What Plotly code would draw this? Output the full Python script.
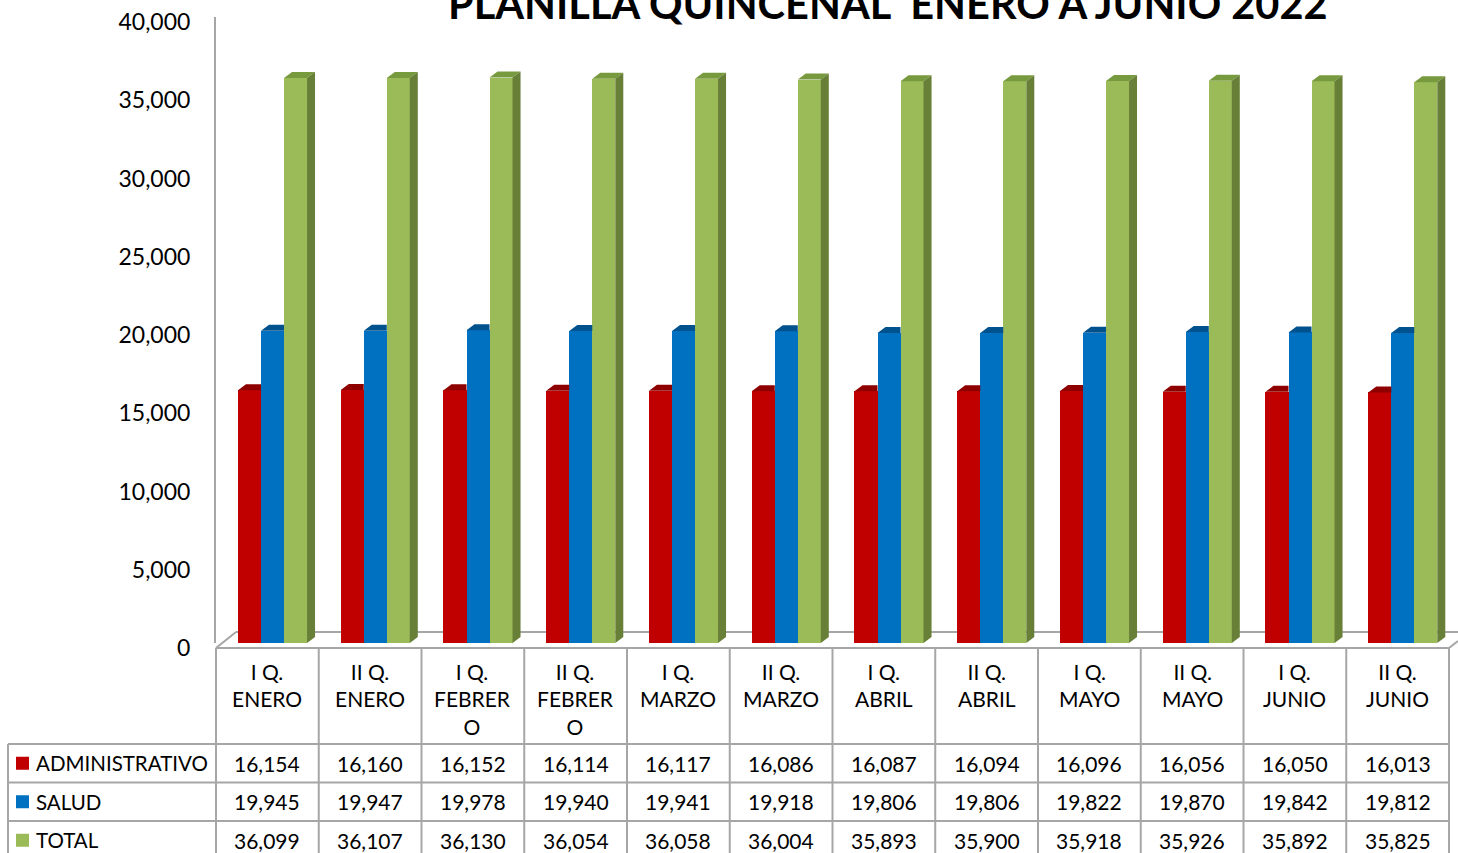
import plotly.graph_objects as go

# ---------------- data ----------------
title = "PLANILLA QUINCENAL  ENERO A JUNIO 2022"
categories = ["I Q.<br>ENERO", "II Q.<br>ENERO", "I Q.<br>FEBRER<br>O", "II Q.<br>FEBRER<br>O",
              "I Q.<br>MARZO", "II Q.<br>MARZO", "I Q.<br>ABRIL", "II Q.<br>ABRIL",
              "I Q.<br>MAYO", "II Q.<br>MAYO", "I Q.<br>JUNIO", "II Q.<br>JUNIO"]
series_names = ["ADMINISTRATIVO", "SALUD", "TOTAL"]
administrativo = [16154, 16160, 16152, 16114, 16117, 16086, 16087, 16094, 16096, 16056, 16050, 16013]
salud = [19945, 19947, 19978, 19940, 19941, 19918, 19806, 19806, 19822, 19870, 19842, 19812]
total = [36099, 36107, 36130, 36054, 36058, 36004, 35893, 35900, 35918, 35926, 35892, 35825]
y_ticks = [0, 5000, 10000, 15000, 20000, 25000, 30000, 35000, 40000]

# ---------------- styling ----------------
W, H = 1458, 853
FONT = "Lato"
colors = ["#C00000", "#0070C0", "#9BBB59"]
top_colors = ["#8E0000", "#00528E", "#789A3E"]
side_color = "#677F37"
grid_color = "#A6A6A6"


def px(x):
    return x / W


def py(y):
    return 1 - y / H


x_left, x_right = 216, 1449
col_w = (x_right - x_left) / len(categories)
plot_top, plot_bot = 17, 643
y_max = 40000
depth_dx = 8 / col_w
depth_dy = 6 / (plot_bot - plot_top) * y_max

values = [administrativo, salud, total]
offsets = [-0.286, -0.062, 0.162]
bw = 0.224
xs = list(range(len(categories)))

fig = go.Figure()
for k, (name, vals, c, off) in enumerate(zip(series_names, values, colors, offsets)):
    fig.add_trace(go.Bar(x=xs, y=vals, name=name, marker=dict(color=c, line=dict(width=0)),
                         offset=off, width=bw, showlegend=False))

# 3D faces (tops, and side of the front-most series) derived from the data
for k, (vals, off) in enumerate(zip(values, offsets)):
    last = k == len(values) - 1
    tx, ty, sx, sy = [], [], [], []
    for i, v in zip(xs, vals):
        x0, x1 = i + off, i + off + bw
        if last:
            tx += [x0, x1, x1 + depth_dx, x0 + depth_dx, x0, None]
            ty += [v, v, v + depth_dy, v + depth_dy, v, None]
            sx += [x1, x1 + depth_dx, x1 + depth_dx, x1, x1, None]
            sy += [v, v + depth_dy, depth_dy, 0, v, None]
        else:
            tx += [x0, x1, x1, x0 + depth_dx, x0, None]
            ty += [v, v, v + depth_dy, v + depth_dy, v, None]
    fig.add_trace(go.Scatter(x=tx, y=ty, mode="lines", fill="toself", fillcolor=top_colors[k],
                             line=dict(width=0, color=top_colors[k]), showlegend=False, hoverinfo="skip"))
    if last:
        fig.add_trace(go.Scatter(x=sx, y=sy, mode="lines", fill="toself", fillcolor=side_color,
                                 line=dict(width=0, color=side_color), showlegend=False, hoverinfo="skip"))

shapes = []
line = dict(color=grid_color, width=2)
# floor (3D base)
shapes.append(dict(type="line", xref="paper", yref="paper", x0=px(216), y0=py(648), x1=px(236), y1=py(632), line=line, layer="below"))
shapes.append(dict(type="line", xref="paper", yref="paper", x0=px(236), y0=py(632), x1=px(1458), y1=py(632), line=line, layer="below"))
shapes.append(dict(type="line", xref="paper", yref="paper", x0=px(1449), y0=py(648), x1=px(1458), y1=py(641), line=line, layer="below"))

# table grid
tbl_top, hdr_bot, row_h, tbl_left = 648, 744, 38.5, 8
shapes.append(dict(type="line", xref="paper", yref="paper", x0=px(x_left), y0=py(tbl_top), x1=px(x_right), y1=py(tbl_top), line=line))
for i in range(len(series_names)):
    yy = hdr_bot + i * row_h
    shapes.append(dict(type="line", xref="paper", yref="paper", x0=px(tbl_left), y0=py(yy), x1=px(x_right), y1=py(yy), line=line))
shapes.append(dict(type="line", xref="paper", yref="paper", x0=px(tbl_left), y0=py(hdr_bot), x1=px(tbl_left), y1=py(H + 5), line=line))
for i in range(len(categories) + 1):
    xx = x_left + i * col_w
    shapes.append(dict(type="line", xref="paper", yref="paper", x0=px(xx), y0=py(tbl_top), x1=px(xx), y1=py(H + 5), line=line))

annotations = []
for i, cat in enumerate(categories):
    annotations.append(dict(xref="paper", yref="paper", x=px(x_left + (i + 0.5) * col_w), y=py(657),
                            text=cat, showarrow=False, xanchor="center", yanchor="top",
                            font=dict(family=FONT, size=21, color="#000000")))
for r, (name, vals, c) in enumerate(zip(series_names, values, colors)):
    yc = hdr_bot + (r + 0.5) * row_h
    shapes.append(dict(type="rect", xref="paper", yref="paper", x0=px(16), x1=px(29),
                       y0=py(yc - 6.5), y1=py(yc + 6.5), fillcolor=c, line=dict(width=0)))
    annotations.append(dict(xref="paper", yref="paper", x=px(34), y=py(yc), text=name, showarrow=False,
                            xanchor="left", yanchor="middle", font=dict(family=FONT, size=20.5, color="#000000")))
    for i, v in enumerate(vals):
        annotations.append(dict(xref="paper", yref="paper", x=px(x_left + (i + 0.5) * col_w), y=py(yc),
                                text=f"{v:,}", showarrow=False, xanchor="center", yanchor="middle",
                                font=dict(family=FONT, size=21, color="#000000")))

annotations.append(dict(xref="paper", yref="paper", x=px(888), y=py(30), text=f"<b>{title}</b>",
                        showarrow=False, xanchor="center", yanchor="bottom",
                        font=dict(family=FONT, size=41.5, color="#000000")))

fig.update_layout(
    width=W, height=H, margin=dict(l=0, r=0, t=0, b=0, autoexpand=False),
    paper_bgcolor="white", plot_bgcolor="rgba(0,0,0,0)",
    barmode="overlay", bargap=0,
    shapes=shapes, annotations=annotations,
    xaxis=dict(domain=[px(x_left), px(x_right)], range=[-0.5, len(categories) - 0.5], automargin=False,
               showticklabels=False, showgrid=False, zeroline=False, showline=False, fixedrange=True),
    yaxis=dict(domain=[py(plot_bot), py(plot_top)], range=[0, y_max], tickvals=y_ticks, automargin=False,
               tickformat=",d", showgrid=False, zeroline=False, showline=True, linecolor=grid_color,
               linewidth=2, ticks="", ticklabelstandoff=19, ticklabelshift=5, ticklabeloverflow="allow",
               tickfont=dict(family=FONT, size=23, color="#000000"), fixedrange=True),
    font=dict(family=FONT),
)

fig.write_html("out.html", config={"displayModeBar": False},
               post_script="document.body.style.margin='0';document.documentElement.style.overflow='hidden';"
                           "document.body.style.overflow='hidden';window.scrollTo(0,0);")
